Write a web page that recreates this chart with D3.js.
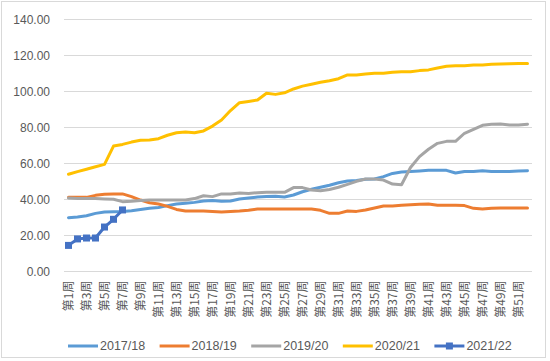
<!DOCTYPE html>
<html>
<head>
<meta charset="utf-8">
<style>
  body { margin: 0; background: #fff; }
  svg { display: block; font-family: "Liberation Sans", Arial, sans-serif; }
</style>
</head>
<body>
<svg width="550" height="361"></svg>
<script src="https://d3js.org/d3.v7.min.js"></script>
<script>
// weeks 第1周 .. 第52周
const weeks = d3.range(1, 53).map(i => "第" + i + "周");
const seriesNames = ["2017/18", "2018/19", "2019/20", "2020/21", "2021/22"];
const yTicks = [0, 20, 40, 60, 80, 100, 120, 140];

const s1718 = [29.9, 30.3, 31.0, 32.3, 33.1, 33.2, 33.4, 33.8, 34.5, 35.1, 35.6, 36.6, 37.5, 37.9, 38.4, 39.2, 39.4,
  39.0, 39.2, 40.3, 40.8, 41.4, 41.6, 41.8, 41.4, 42.5, 44.3, 45.7, 46.8, 47.9, 49.3, 50.3, 50.6, 51.2, 51.4,
  52.7, 54.5, 55.3, 55.5, 55.8, 56.2, 56.2, 56.2, 54.7, 55.6, 55.5, 56.0, 55.6, 55.6, 55.6, 55.8, 56.0];
const s1819 = [41.2, 41.2, 41.2, 42.3, 42.9, 43.1, 43.1, 41.6, 39.7, 38.2, 37.5, 36.2, 34.5, 33.6, 33.6, 33.6, 33.4,
  33.1, 33.4, 33.6, 34.0, 34.7, 34.7, 34.7, 34.7, 34.7, 34.7, 34.7, 34.0, 32.3, 32.3, 33.6, 33.4, 34.2, 35.3,
  36.4, 36.4, 36.8, 37.1, 37.3, 37.5, 36.8, 36.8, 36.8, 36.6, 35.1, 34.7, 35.1, 35.3, 35.3, 35.3, 35.3];
const s1920 = [40.8, 40.6, 40.6, 40.6, 40.3, 40.1, 38.8, 39.0, 39.5, 39.7, 39.7, 39.7, 39.7, 39.7, 40.5, 42.1, 41.6,
  43.1, 43.1, 43.6, 43.4, 43.8, 44.0, 44.0, 44.0, 46.6, 46.6, 45.3, 44.9, 45.6, 46.8, 48.4, 50.1, 51.4, 51.4,
  50.8, 48.6, 48.2, 57.8, 63.8, 67.9, 71.2, 72.3, 72.3, 76.8, 79.0, 81.2, 81.8, 81.9, 81.4, 81.4, 81.8];
const s2021 = [54.0, 55.5, 56.8, 58.2, 59.5, 69.7, 70.6, 71.9, 72.9, 73.1, 73.8, 75.7, 77.1, 77.5, 77.1, 78.1, 80.8,
  84.2, 89.4, 93.8, 94.5, 95.3, 99.0, 98.4, 99.3, 101.4, 103.0, 104.0, 105.1, 106.0, 107.1, 109.2, 109.2, 109.7, 110.1,
  110.1, 110.7, 111.0, 111.0, 111.6, 112.0, 113.1, 114.0, 114.3, 114.3, 114.7, 114.7, 115.1, 115.3, 115.4, 115.6, 115.6];
const s2122 = [14.5, 18.1, 18.6, 18.6, 24.7, 29.0, 34.2];

const colors = ["#5B9BD5", "#ED7D31", "#A5A5A5", "#FFC000", "#4472C4"];
const allSeries = [s1718, s1819, s1920, s2021, s2122];

const svg = d3.select("svg");

// outer chart border
svg.append("rect")
  .attr("x", 1.5).attr("y", 1.5)
  .attr("width", 544).attr("height", 356)
  .attr("fill", "#fff").attr("stroke", "#D9D9D9");

const x = d3.scaleBand().domain(weeks).range([64, 532]);
const y = d3.scaleLinear().domain([0, 140]).range([271.5, 19.5]);
const cx = d => x(d) + x.bandwidth() / 2;

// gridlines
svg.append("g").selectAll("line").data(yTicks).enter().append("line")
  .attr("x1", 64).attr("x2", 532)
  .attr("y1", d => y(d)).attr("y2", d => y(d))
  .attr("stroke", "#D9D9D9").attr("stroke-width", 1);

// y axis labels
const yAxis = d3.axisLeft(y).tickValues(yTicks).tickFormat(d3.format(".2f")).tickSize(0).tickPadding(0);
svg.append("g").attr("transform", "translate(50,0)").call(yAxis)
  .call(g => g.select(".domain").remove())
  .selectAll("text")
  .attr("fill", "#595959").attr("font-size", "12px")
  .attr("font-family", "Liberation Sans, Arial, sans-serif");

// x axis labels (every other week, rotated)
const xAxis = d3.axisBottom(x).tickValues(weeks.filter((d, i) => i % 2 === 0)).tickSize(0).tickPadding(0);
svg.append("g").attr("transform", "translate(0,271.5)").call(xAxis)
  .call(g => g.select(".domain").remove())
  .selectAll("text")
  .attr("transform", "rotate(-90)")
  .attr("x", -9).attr("y", 0).attr("dy", "0.35em")
  .attr("text-anchor", "end")
  .attr("fill", "#595959").attr("font-size", "12px")
  .attr("font-family", "Noto Sans CJK SC, sans-serif");

// lines
const line = d3.line().x((d, i) => cx(weeks[i])).y(d => y(d));
allSeries.forEach((s, k) => {
  svg.append("path").datum(s)
    .attr("d", line)
    .attr("fill", "none")
    .attr("stroke", colors[k])
    .attr("stroke-width", 3)
    .attr("stroke-linejoin", "round")
    .attr("stroke-linecap", "round");
});

// markers for 2021/22
svg.append("g").selectAll("rect").data(s2122).enter().append("rect")
  .attr("x", (d, i) => cx(weeks[i]) - 3.5)
  .attr("y", d => y(d) - 3.5)
  .attr("width", 7).attr("height", 7)
  .attr("fill", colors[4]);

// legend
const legend = svg.append("g").attr("transform", "translate(68,346)");
seriesNames.forEach((name, k) => {
  const g = legend.append("g").attr("transform", "translate(" + (k * 91.6) + ",0)");
  g.append("line").attr("x1", 0).attr("x2", 30).attr("y1", 0).attr("y2", 0)
    .attr("stroke", colors[k]).attr("stroke-width", 3);
  if (k === 4) {
    g.append("rect").attr("x", 11.5).attr("y", -3.5).attr("width", 7).attr("height", 7)
      .attr("fill", colors[k]);
  }
  g.append("text").attr("x", 32).attr("y", 0).attr("dy", "0.35em")
    .attr("fill", "#595959").attr("font-size", "12.5px")
    .text(name);
});
</script>
</body>
</html>
